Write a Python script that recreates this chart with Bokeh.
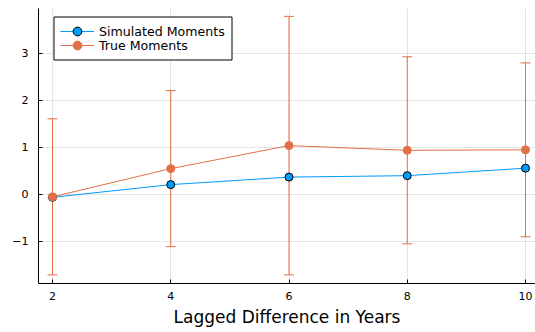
from bokeh.plotting import figure
from bokeh.models import (ColumnDataSource, Whisker, TeeHead, Legend, LegendItem, Range1d,
                          FixedTicker, BoxAnnotation)
from bokeh.embed import file_html
from bokeh.resources import INLINE

lags = [2, 4, 6, 8, 10]
simulated = [-0.06, 0.21, 0.37, 0.40, 0.56]
true_vals = [-0.05, 0.55, 1.04, 0.94, 0.95]
true_err = [1.66, 1.66, 2.75, 1.99, 1.85]
x_ticks = [2, 4, 6, 8, 10]
y_ticks = [-1, 0, 1, 2, 3]

BLUE = "#009AFA"
ORANGE = "#E36F47"
FONT = "DejaVu Sans"

src = ColumnDataSource(dict(
    x=lags, sim=simulated, tru=true_vals,
    lo=[v - e for v, e in zip(true_vals, true_err)],
    hi=[v + e for v, e in zip(true_vals, true_err)],
))

p = figure(width=535, height=332, output_backend="svg", toolbar_location=None,
           x_range=Range1d(1.763, 10.169), y_range=Range1d(-1.894, 3.957),
           min_border_left=38, min_border_top=8, min_border_right=0, min_border_bottom=49)
p.outline_line_color = None
p.background_fill_color = "white"

w = Whisker(source=src, base="x", lower="lo", upper="hi", line_color=ORANGE, line_width=1,
            upper_head=TeeHead(size=10, line_color=ORANGE, line_width=1),
            lower_head=TeeHead(size=10, line_color=ORANGE, line_width=1))
p.add_layout(w)

l1 = p.line("x", "sim", source=src, line_color=BLUE, line_width=1)
m1 = p.scatter("x", "sim", source=src, size=8, fill_color=BLUE, line_color="black", line_width=1)
l2 = p.line("x", "tru", source=src, line_color=ORANGE, line_width=1)
m2 = p.scatter("x", "tru", source=src, size=8, fill_color=ORANGE, line_color=ORANGE, line_width=1)

# legend frame (screen units relative to the plot frame)
box = BoxAnnotation(left=15.5, right=193.5, top=266.5, bottom=223.5,
                    left_units="screen", right_units="screen",
                    top_units="screen", bottom_units="screen",
                    fill_color="white", fill_alpha=1, line_color="black", line_width=1,
                    line_alpha=1)
p.add_layout(box)


def make_legend(label, renderers, y):
    lg = Legend(items=[LegendItem(label=label, renderers=renderers)], location=(22, y))
    lg.label_text_font = FONT
    lg.label_text_font_size = "12.6px"
    lg.label_text_color = "black"
    lg.label_height = 22
    lg.glyph_height = 22
    lg.glyph_width = 34
    lg.label_standoff = 5
    lg.spacing = 0
    lg.padding = 0
    lg.margin = 0
    lg.border_line_color = None
    lg.background_fill_alpha = 0
    return lg


p.add_layout(make_legend("Simulated Moments", [l1, m1], 241))
p.add_layout(make_legend("True Moments", [l2, m2], 227))

for ax in (p.xaxis[0], p.yaxis[0]):
    ax.axis_line_color = "black"
    ax.axis_line_width = 1
    ax.major_tick_in = 4
    ax.major_tick_out = 0
    ax.major_tick_line_color = "black"
    ax.minor_tick_line_color = None
    ax.major_label_text_font = FONT
    ax.major_label_text_font_size = "11px"
    ax.major_label_text_color = "black"

p.xaxis.ticker = FixedTicker(ticks=x_ticks)
p.yaxis.ticker = FixedTicker(ticks=y_ticks)
p.yaxis.major_label_overrides = {-1: "\u22121"}
p.xaxis.major_label_standoff = 8
p.yaxis.major_label_standoff = 10
p.xaxis.axis_label = "Lagged Difference in Years"
p.xaxis.axis_label_text_font = FONT
p.xaxis.axis_label_text_font_size = "17px"
p.xaxis.axis_label_text_font_style = "normal"
p.xaxis.axis_label_text_color = "black"
p.xaxis.axis_label_standoff = 4

p.xgrid.ticker = FixedTicker(ticks=x_ticks)
p.ygrid.ticker = FixedTicker(ticks=y_ticks)
for g in (p.xgrid[0], p.ygrid[0]):
    g.grid_line_color = "black"
    g.grid_line_alpha = 0.1
    g.grid_line_width = 1

open("out.html", "w").write(file_html(p, INLINE))
